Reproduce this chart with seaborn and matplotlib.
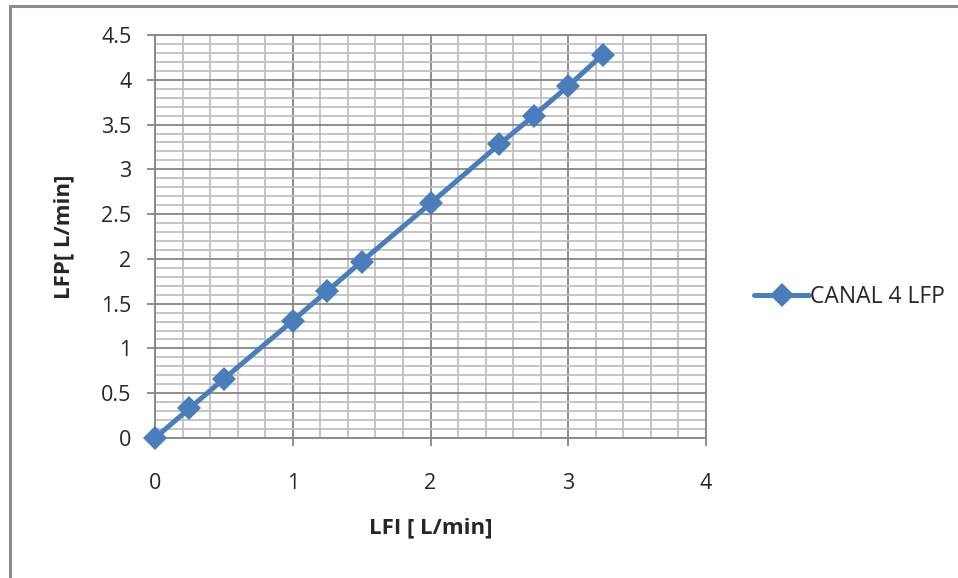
import numpy as np
import pandas as pd
import seaborn as sns
from matplotlib import pyplot as plt
from matplotlib.lines import Line2D
from matplotlib.ticker import MultipleLocator

# values
lfi = [0, 0.25, 0.5, 1, 1.25, 1.5, 2, 2.5, 2.75, 3, 3.25]
lfp = [0, 0.33, 0.66, 1.31, 1.64, 1.97, 2.62, 3.28, 3.60, 3.93, 4.28]
series_name = "CANAL 4 LFP"
y_ticks = [0, 0.5, 1, 1.5, 2, 2.5, 3, 3.5, 4, 4.5]
y_ticklabels = ["0", "0.5", "1", "1.5", "2", "2.5", "3", "3.5", "4", "4.5"]

BLUE = "#4a7ebb"
MAJOR_GRID = "#868686"
MINOR_GRID = "#c0c0c0"

sns.set_style("white")
plt.rcParams["font.family"] = ["Open Sans", "DejaVu Sans"]

df = pd.DataFrame({"LFI": lfi, "LFP": lfp, "serie": series_name})

fig = plt.figure(figsize=(9.58, 5.78), dpi=100)
ax = fig.add_axes([155 / 958, 1 - 438 / 578, (706 - 155) / 958, (438 - 35) / 578])

sns.lineplot(
    data=df, x="LFI", y="LFP", hue="serie", palette=[BLUE],
    marker="D", markersize=12.5, markeredgewidth=0, linewidth=3.6,
    ax=ax, zorder=5, clip_on=False,
)

ax.set_xlim(0, 4)
ax.set_ylim(0, 4.5)
ax.xaxis.set_major_locator(MultipleLocator(1))
ax.xaxis.set_minor_locator(MultipleLocator(0.2))
ax.yaxis.set_minor_locator(MultipleLocator(0.1))
ax.set_yticks(y_ticks)
ax.set_yticklabels(y_ticklabels)

ax.grid(which="minor", color=MINOR_GRID, linewidth=1.3)
ax.grid(which="major", color=MAJOR_GRID, linewidth=1.3)
ax.set_axisbelow(True)

for s in ax.spines.values():
    s.set_color(MAJOR_GRID)
    s.set_linewidth(1.3)

ax.tick_params(which="major", direction="out", length=6, width=1.3,
               color=MAJOR_GRID, labelsize=15.5, left=True, bottom=True)
ax.tick_params(axis="y", pad=11)
ax.tick_params(axis="x", pad=19)
ax.tick_params(which="minor", length=0)

ax.set_xlabel("LFI [ L/min]", fontsize=16, fontweight="bold", labelpad=17)
ax.set_ylabel("LFP[ L/min]", fontsize=16, fontweight="bold", labelpad=19)

ax.legend(loc="center left", bbox_to_anchor=(1.05, 0.35), frameon=False,
          fontsize=16.5, handlelength=2.4, handletextpad=0.05)

# chart area border (only left and top edges visible in the crop)
fig.add_artist(Line2D([10 / 958, 10 / 958], [0, 1 - 6 / 578],
                      transform=fig.transFigure, color="#8c8c8c", linewidth=2.2))
fig.add_artist(Line2D([10 / 958, 1], [1 - 6 / 578, 1 - 6 / 578],
                      transform=fig.transFigure, color="#8c8c8c", linewidth=2.2))

fig.savefig("out.png", dpi=100)
